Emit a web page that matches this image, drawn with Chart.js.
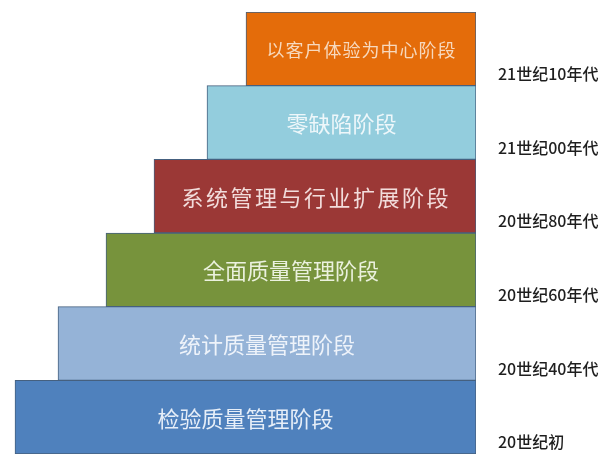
<!DOCTYPE html>
<html>
<head>
<meta charset="utf-8">
<script src="https://cdn.jsdelivr.net/npm/chart.js@4"></script>
<style>
  html, body { margin: 0; padding: 0; background: #ffffff; overflow: hidden; }
  #wrap { width: 608px; height: 454px; position: relative; }
</style>
</head>
<body>
<div id="wrap"><canvas id="c"></canvas></div>
<script>
// Stages from top (latest) to bottom (earliest)
const stages = ['以客户体验为中心阶段', '零缺陷阶段', '系统管理与行业扩展阶段', '全面质量管理阶段', '统计质量管理阶段', '检验质量管理阶段'];
const eras = ['21世纪10年代', '21世纪00年代', '20世纪80年代', '20世纪60年代', '20世纪40年代', '20世纪初'];
// Step widths of each stage (all steps share a common right edge)
const stepWidths = [230, 269, 322, 370, 418, 461];
const stepEnd = 476;

// Styles
const fillColors = ['#E46C0A', '#93CDDD', '#9B3836', '#77933C', '#95B3D7', '#4F81BD'];
const textColors = ['#F7D9BE', '#EEF7FA', '#F2DCDB', '#EBF1DE', '#EEF3FA', '#E6EEF8'];
const textSizes = [18, 22, 22, 22, 22, 22];
const textSpacing = [1, 0, 2.5, 0, 0, 0];

const innerLabels = {
  id: 'innerLabels',
  afterDatasetsDraw(chart) {
    const ctx = chart.ctx;
    const meta = chart.getDatasetMeta(0);
    meta.data.forEach((bar, i) => {
      const cx = (bar.x + bar.base) / 2;
      ctx.save();
      ctx.font = textSizes[i] + 'px "Noto Sans CJK SC", sans-serif';
      ctx.letterSpacing = textSpacing[i] + 'px';
      ctx.fillStyle = textColors[i];
      ctx.textAlign = 'center';
      ctx.textBaseline = 'middle';
      ctx.fillText(stages[i], cx + textSpacing[i] / 2, bar.y + 1);
      ctx.restore();
    });
  }
};

new Chart(document.getElementById('c'), {
  type: 'bar',
  data: {
    labels: stages,
    datasets: [{
      data: stepWidths.map(w => [stepEnd - w, stepEnd]),
      backgroundColor: fillColors,
      borderColor: '#45607F',
      borderWidth: 1,
      borderSkipped: false,
      categoryPercentage: 1,
      barPercentage: 1,
      yAxisID: 'y'
    }]
  },
  options: {
    indexAxis: 'y',
    responsive: true,
    maintainAspectRatio: false,
    animation: false,
    events: [],
    layout: { padding: { top: 12, left: 0, right: 0, bottom: 0 } },
    plugins: { legend: { display: false }, tooltip: { enabled: false }, title: { display: false } },
    scales: {
      x: { type: 'linear', min: 0, max: stepEnd, display: false },
      y: { type: 'category', display: false },
      y2: {
        type: 'category',
        labels: eras,
        position: 'right',
        border: { display: false },
        grid: { display: false, drawTicks: false },
        ticks: {
          padding: 22,
          labelOffset: 25,
          color: '#1e1e1e',
          font: { family: '"Noto Sans CJK SC", sans-serif', size: 16, weight: '500' }
        },
        afterFit(scale) {
          scale.width = 608 - stepEnd;
          scale.paddingTop = 0;
          scale.paddingBottom = 0;
        }
      }
    }
  },
  plugins: [innerLabels]
});
</script>
</body>
</html>
